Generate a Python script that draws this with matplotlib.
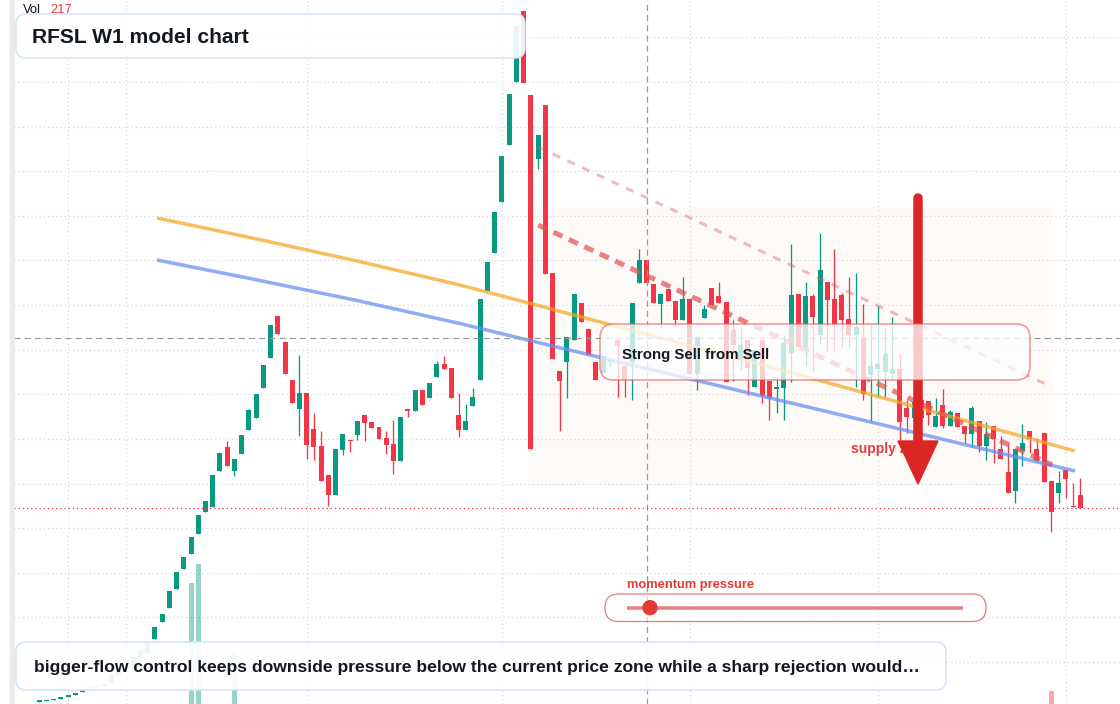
import matplotlib
matplotlib.use("Agg")
import matplotlib.pyplot as plt
from matplotlib.patches import FancyBboxPatch, Polygon, Circle, Rectangle
import numpy as np

# ---------------- data (weekly candles, price units) ----------------
opens = [0.24, 0.29, 0.39, 0.54, 0.74, 0.94, 1.24, 1.60, 1.70, 1.80,
         2.10, 2.90, 3.50, 3.90, 4.60, 5.10, 6.50, 8.20, 9.60, 11.50,
         13.50, 15.00, 17.00, 19.20, 19.70, 23.30, 25.70, 23.30, 25.00, 27.40,
         28.60, 31.60, 34.60, 38.80, 36.20, 32.40, 29.50, 31.10, 27.50, 25.80,
         22.90, 20.90, 25.40, 26.43, 26.90, 28.90, 28.20, 27.70, 26.60, 26.00,
         24.30, 29.50, 29.30, 31.40, 30.60, 32.70, 34.00, 33.60, 28.90, 27.40,
         29.80, 32.40, 41.30, 45.10, 50.20, 55.90, 62.20, 69.30, 60.90, 54.50,
         59.90, 43.10, 33.30, 34.20, 36.40, 40.10, 37.50, 34.20, 33.10, 34.20,
         36.40, 33.80, 34.20, 42.10, 44.40, 42.00, 40.00, 41.50, 40.30, 38.40,
         40.50, 33.00, 38.60, 41.60, 40.80, 40.20, 37.40, 34.40, 36.40, 31.70,
         36.40, 32.30, 31.50, 31.60, 35.10, 41.00, 35.70, 40.80, 36.90, 42.20,
         40.50, 40.90, 38.50, 36.90, 36.70, 32.90, 33.50, 33.20, 33.00, 33.50,
         29.60, 28.60, 30.40, 30.30, 27.70, 29.90, 27.80, 29.10, 27.80, 27.00,
         28.30, 25.80, 27.80, 25.50, 23.20, 21.30, 25.30, 27.30, 25.50, 27.10,
         22.30, 21.10, 23.40, 19.80, 20.90]
highs = [0.36, 0.41, 0.51, 0.66, 0.86, 1.06, 1.36, 1.75, 1.85, 2.00,
         2.90, 3.60, 4.00, 4.70, 5.30, 6.10, 7.70, 9.00, 11.30, 13.20,
         14.70, 16.70, 18.90, 20.30, 22.90, 25.10, 26.30, 24.50, 26.90, 29.50,
         31.00, 33.90, 37.90, 38.80, 36.20, 32.40, 34.90, 31.10, 29.10, 27.30,
         22.90, 25.50, 27.00, 26.43, 28.30, 28.90, 28.20, 27.70, 27.30, 28.40,
         28.70, 29.50, 31.40, 31.40, 32.10, 34.30, 34.80, 33.60, 31.10, 30.00,
         31.60, 40.50, 44.20, 49.20, 54.80, 61.00, 67.80, 69.30, 60.90, 56.90,
         59.90, 43.10, 33.30, 36.70, 41.00, 40.10, 37.50, 34.20, 34.80, 34.40,
         36.40, 33.80, 40.10, 45.50, 44.40, 42.00, 41.00, 41.50, 40.30, 42.70,
         40.50, 36.70, 39.90, 41.60, 42.20, 40.20, 38.40, 37.70, 36.40, 35.40,
         36.40, 32.30, 32.70, 36.90, 46.00, 41.00, 42.20, 41.00, 47.10, 42.20,
         45.50, 41.10, 42.70, 43.10, 40.00, 38.00, 39.80, 37.60, 38.70, 35.00,
         30.40, 31.00, 30.90, 30.30, 30.60, 31.50, 29.40, 29.10, 27.80, 29.80,
         28.30, 28.20, 27.80, 26.80, 26.00, 25.50, 28.00, 27.30, 26.60, 27.10,
         22.30, 23.30, 23.40, 22.10, 22.60]
lows = [0.24, 0.29, 0.39, 0.54, 0.74, 0.94, 1.24, 1.60, 1.70, 1.80,
        2.10, 2.90, 3.50, 3.90, 4.60, 5.10, 6.50, 8.20, 9.60, 11.50,
        13.50, 15.00, 17.00, 19.20, 19.70, 23.30, 23.80, 22.80, 25.00, 27.40,
        28.60, 31.60, 34.60, 37.00, 33.00, 30.10, 26.80, 24.50, 24.40, 22.30,
        19.80, 20.90, 24.90, 25.20, 26.40, 26.30, 27.60, 26.50, 25.00, 23.00,
        24.30, 28.70, 29.30, 29.90, 30.60, 32.70, 33.50, 30.60, 26.70, 27.40,
        29.80, 32.40, 41.30, 45.10, 50.20, 55.90, 62.20, 62.10, 25.50, 53.50,
        43.00, 34.50, 27.30, 30.60, 36.40, 38.20, 34.90, 32.40, 33.10, 33.70,
        30.70, 30.70, 30.40, 42.10, 42.10, 40.10, 37.70, 40.30, 37.70, 38.40,
        33.00, 31.40, 38.60, 39.90, 40.10, 32.20, 32.30, 33.40, 30.90, 31.70,
        30.10, 28.40, 29.10, 28.40, 32.20, 35.70, 33.80, 33.30, 36.00, 35.30,
        35.20, 35.70, 35.70, 31.70, 30.40, 28.30, 30.70, 30.70, 32.50, 26.40,
        27.10, 27.50, 28.00, 27.90, 27.70, 27.60, 27.80, 27.70, 26.10, 25.70,
        25.20, 24.40, 24.10, 24.50, 21.10, 20.10, 23.80, 25.10, 24.30, 22.20,
        17.20, 20.10, 20.60, 19.70, 19.60]
closes = [0.36, 0.41, 0.51, 0.66, 0.86, 1.06, 1.36, 1.75, 1.85, 2.00,
          2.90, 3.60, 4.00, 4.70, 5.30, 6.10, 7.70, 9.00, 11.30, 13.20,
          14.70, 16.70, 18.90, 20.30, 22.90, 25.10, 23.80, 24.50, 26.90, 29.40,
          31.00, 33.90, 37.90, 37.00, 33.00, 30.10, 31.10, 25.90, 25.70, 22.30,
          20.90, 25.50, 27.00, 26.33, 28.30, 28.10, 27.60, 26.50, 25.90, 24.30,
          28.70, 29.30, 31.40, 29.90, 32.10, 34.00, 33.50, 30.60, 27.40, 28.30,
          30.70, 40.50, 44.20, 49.20, 54.80, 61.00, 67.80, 62.10, 25.50, 56.90,
          43.00, 34.50, 32.30, 36.70, 41.00, 38.20, 34.90, 32.40, 34.80, 34.40,
          35.80, 32.40, 40.10, 44.40, 42.10, 40.10, 41.00, 40.30, 38.40, 40.50,
          33.00, 36.70, 39.50, 39.90, 40.10, 32.20, 35.90, 35.90, 33.60, 35.40,
          30.80, 30.60, 31.70, 36.10, 40.90, 35.70, 40.80, 38.70, 43.40, 40.40,
          37.90, 38.40, 36.90, 37.70, 31.00, 33.80, 34.00, 35.00, 33.50, 28.20,
          28.70, 30.20, 28.60, 28.90, 28.80, 27.80, 29.20, 27.70, 27.00, 29.60,
          25.80, 27.00, 26.50, 24.50, 21.10, 25.50, 26.10, 26.50, 24.30, 22.20,
          19.20, 22.10, 22.50, 19.70, 19.60]

vol_index = [21, 22, 27, 140]
vol_value = [2020, 2340, 850, 217]

orange_x = [16.29, 29.16, 43.96, 58.20, 69.27, 77.57, 101.08, 119.06, 143.26]
orange_y = [48.60, 46.65, 44.30, 41.90, 39.80, 38.20, 33.70, 30.15, 25.30]
blue_x = [16.29, 29.16, 43.96, 58.20, 69.27, 84.48, 101.08, 119.06, 143.26]
blue_y = [44.40, 42.55, 40.35, 38.05, 36.10, 33.47, 30.60, 27.50, 23.30]
channel_x = [69.0, 140.1]
channel_upper = [55.7, 31.7]
channel_lower = [47.9, 23.9]
zone_x = [67.6, 140.1]
zone_y = [21.9, 49.7]

last_price = 19.6
cross_x, cross_y = 84, 36.6
grid_x = [4, 12, 37, 64, 90, 116, 142]
grid_y = list(np.arange(66.67, 0, -4.462))

title = "RFSL W1 model chart"
note = ("bigger-flow control keeps downside pressure below the current price "
        "zone while a sharp rejection would\u2026")

# ---------------- figure ----------------
W, H, DPI = 1120, 704, 100
def px(v):
    return v * 72.0 / DPI

FONT = "Liberation Sans"
plt.rcParams["font.family"] = [FONT, "DejaVu Sans"]
GREEN, RED, DARK = "#089981", "#f23645", "#131722"

fig = plt.figure(figsize=(W / DPI, H / DPI), dpi=DPI)
fig.patch.set_facecolor("white")

ax = fig.add_axes([14 / W, 0, 1 - 14 / W, 1])
ax.set_xlim(-3.485, 149.49)
ax.set_ylim(0, 70.4)
for s in ax.spines.values():
    s.set_visible(False)
ax.set_xticks(grid_x)
ax.set_yticks(grid_y)
ax.tick_params(length=0, labelbottom=False, labelleft=False)
ax.grid(True, color="#d3d6dc", lw=px(1.1), ls=(0, (1.2, 2.6)))
ax.set_axisbelow(True)

# zone shading
ax.add_patch(Rectangle((zone_x[0], zone_y[0]), zone_x[1] - zone_x[0],
                       zone_y[1] - zone_y[0], facecolor="#f6e6dc", alpha=0.18,
                       edgecolor="none", zorder=1))

o = np.array(opens); c = np.array(closes)
hi = np.array(highs); lo = np.array(lows)
xs = np.arange(len(o))
cols = np.where(c >= o, GREEN, RED)
ax.vlines(xs, lo, hi, colors=cols, lw=px(1.3), zorder=3)
bottoms = np.minimum(o, c)
heights = np.maximum(np.abs(c - o), 0.12)
ax.bar(xs, heights, bottom=bottoms, width=0.69, color=cols, linewidth=0, zorder=3)

# trend lines
ax.plot(orange_x, orange_y, color="#f5a623", alpha=0.72, lw=px(3.5), zorder=4,
        solid_capstyle="butt", solid_joinstyle="round")
ax.plot(blue_x, blue_y, color="#6b8ff5", alpha=0.75, lw=px(3.5), zorder=4,
        solid_capstyle="butt", solid_joinstyle="round")
ax.plot(channel_x, channel_upper, color="#e35d5d", alpha=0.42, lw=px(3),
        ls=(0, (2.7, 2.7)), zorder=4)
ax.plot(channel_x, channel_lower, color="#e04f4f", alpha=0.7, lw=px(5),
        ls=(0, (2.0, 1.4)), zorder=4)

# crosshair + last price
ax.axvline(cross_x, color="#9598a1", lw=px(1.2), ls=(0, (5, 3.5)), zorder=5)
ax.axhline(cross_y, color="#9598a1", lw=px(1.2), ls=(0, (5, 3.5)), zorder=5)
ax.axhline(last_price, color=RED, lw=px(1.3), ls=(0, (1.0, 2.2)), zorder=5)

# volume
vax = fig.add_axes([14 / W, 0, 1 - 14 / W, 1], sharex=ax)
vax.set_ylim(0, 704 * 16.7)
vax.axis("off")
vcols = [GREEN if closes[i] >= opens[i] else RED for i in vol_index]
vax.bar(vol_index, vol_value, width=0.69, color=vcols, alpha=0.43, linewidth=0)

# ---------------- overlay (pixel coordinates) ----------------
ov = fig.add_axes([0, 0, 1, 1])
ov.set_xlim(0, W)
ov.set_ylim(H, 0)
ov.axis("off")

ov.add_patch(Rectangle((10, 0), 4, H, color="#ebebeb", zorder=1))

ov.text(23, 12.7, "Vol", fontsize=9.4, color=DARK, zorder=9)
ov.text(50, 12.7, "217", fontsize=9.4, color=RED, zorder=9)

ov.add_patch(FancyBboxPatch((16, 14), 509, 44, boxstyle="round,pad=0,rounding_size=10",
                            fc=(1, 1, 1, 0.92), ec="#d6e4f7", lw=px(1.6), zorder=8))
ov.text(32, 43.3, title, fontsize=15.1, fontweight="bold", color=DARK, zorder=9)

ov.add_patch(FancyBboxPatch((16, 642), 930, 48, boxstyle="round,pad=0,rounding_size=10",
                            fc=(1, 1, 1, 0.93), ec="#d6e4f7", lw=px(1.6), zorder=8))
ov.text(34.5, 672, note, fontsize=12.6, fontweight="bold", color=DARK, zorder=9)

# supply text + arrow
ov.text(851, 453, "supply zone", fontsize=10, fontweight="bold", color="#e03c3c", zorder=4)
ov.plot([918, 918], [198, 442], color="#dc2626", lw=px(9.5), solid_capstyle="round", zorder=5)
ov.add_patch(Polygon([(898, 441), (938, 441), (918, 484)], closed=True,
                     color="#dc2626", zorder=5))

# strong sell box
ov.add_patch(FancyBboxPatch((600, 324), 430, 56, boxstyle="round,pad=0,rounding_size=14",
                            fc=(1, 1, 1, 0.76), ec=(0.89, 0.33, 0.33, 0.6), lw=px(1.6),
                            zorder=6))
ov.text(622, 359.5, "Strong Sell from Sell", fontsize=10.8, fontweight="bold",
        color=DARK, zorder=7)

# momentum widget
ov.text(627, 588.3, "momentum pressure", fontsize=9.3, fontweight="bold",
        color="#e53935", zorder=7)
ov.add_patch(FancyBboxPatch((605, 594), 381, 27.5, boxstyle="round,pad=0,rounding_size=13.5",
                            fc=(1, 1, 1, 0.6), ec=(0.9, 0.4, 0.4, 0.85), lw=px(1.3), zorder=6))
ov.plot([627, 963], [607.7, 607.7], color="#e57373", alpha=0.9, lw=px(3.5),
        solid_capstyle="butt", zorder=7)
ov.add_patch(Circle((650, 607.7), 7, color="#e53935", zorder=8))

fig.savefig("out.png", dpi=DPI, facecolor="white")
